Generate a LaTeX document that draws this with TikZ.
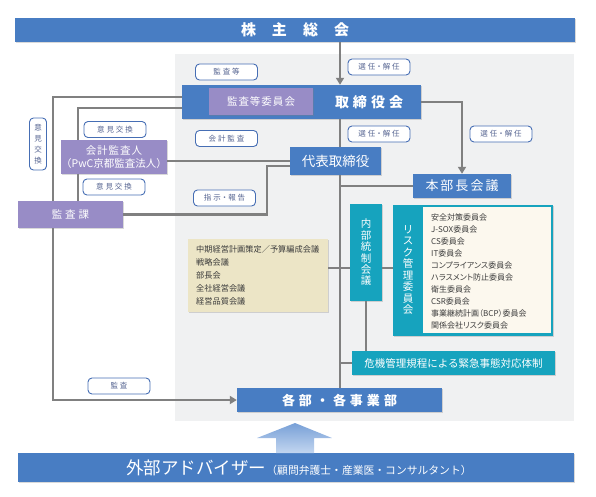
\documentclass[tikz,border=0pt]{standalone}
\usepackage{fontspec}
\setmainfont{Noto Sans CJK JP}
\usetikzlibrary{arrows.meta,shadows}
\definecolor{cblue}{RGB}{72,125,195}
\definecolor{cpurple}{RGB}{152,140,198}
\definecolor{cteal}{RGB}{22,163,190}
\definecolor{cbeige}{RGB}{236,229,198}
\definecolor{ccream}{RGB}{252,248,238}
\definecolor{cpanel}{RGB}{240,241,242}
\definecolor{cline}{RGB}{128,128,128}
\definecolor{clabel}{RGB}{70,110,180}
\definecolor{clabtxt}{RGB}{85,100,145}
\definecolor{ctext}{RGB}{60,60,60}
\pgfdeclarelayer{bg}
\pgfsetlayers{bg,main}
\tikzset{
  box/.style={rectangle, inner sep=0pt, text=white, drop shadow={shadow xshift=1.3pt,shadow yshift=-1.3pt,opacity=0.3}},
  bluebox/.style={box, fill=cblue},
  purplebox/.style={box, fill=cpurple},
  tealbox/.style={box, fill=cteal},
  lab/.style={draw=clabel, line width=0.9pt, fill=white, rounded corners=4pt, minimum width=62pt, minimum height=16pt, inner sep=0pt, text=clabtxt, font=\fontsize{7.5}{8}\selectfont\addfontfeature{RawFeature=+palt,LetterSpace=25}},
  conn/.style={draw=cline, line width=2.2pt},
  arr/.style={conn, -{Triangle[length=7pt,width=8pt]}},
  txt/.style={inner sep=0pt, text=white}
}
\begin{document}
\begin{tikzpicture}[x=1pt,y=-1pt]
\useasboundingbox (0,0) rectangle (596,496);
\begin{pgfonlayer}{bg}
\fill[cpanel] (175,54) rectangle (574,421);
\end{pgfonlayer}
\coordinate (spine) at (340,0);
\coordinate (midrow) at (0,268);
% top bar
\node[bluebox, minimum width=560pt, minimum height=24pt, font=\fontsize{15}{15}\selectfont\bfseries] (top) at (295,30) {株\hspace{16pt}主\hspace{16pt}総\hspace{16pt}会};
% board
\node[bluebox, minimum width=239pt, minimum height=34pt] (board) at (301.5,102) {};
\node[txt, font=\fontsize{14}{14}\selectfont\bfseries] (boardtxt) at (369,102) {取\hspace{4pt}締\hspace{4pt}役\hspace{4pt}会};
\node[purplebox, minimum width=104pt, minimum height=27pt, font=\fontsize{10.5}{11}\selectfont] (ac) at (261,101.5) {監\hspace{1pt}査\hspace{1pt}等\hspace{1pt}委\hspace{1pt}員\hspace{1pt}会};
% accountant
\node[purplebox, minimum width=104pt, minimum height=34pt, align=center, font=\fontsize{10.5}{13}\selectfont] (acct) at (114,157) {会\hspace{1pt}計\hspace{1pt}監\hspace{1pt}査\hspace{1pt}人\\（PwC京都監査法人）};
\node[purplebox, minimum width=105pt, minimum height=27pt, font=\fontsize{10.5}{11}\selectfont] (kansaka) at (70.5,214.5) {監\hspace{3pt}査\hspace{3pt}課};
% representative
\node[bluebox, minimum width=91pt, minimum height=28pt, font=\fontsize{13.5}{14}\selectfont] (rep) at (335.5,161) {代表取締役};
\node[bluebox, minimum width=98pt, minimum height=24pt, font=\fontsize{13}{14}\selectfont] (honbu) at (462,186) {本\hspace{2pt}部\hspace{2pt}長\hspace{2pt}会\hspace{2pt}議};
% beige list
\node[box, fill=cbeige, minimum width=140pt, minimum height=73pt] (beige) at (258,275.5) {};
\node[inner sep=0pt, anchor=west, align=left, text=ctext, font=\fontsize{8.2}{13}\selectfont] (beigetxt) at (196,275.5) {中期経営計画策定／予算編成会議\\戦略会議\\部長会\\全社経営会議\\経営品質会議};
% internal control
\node[tealbox, minimum width=32pt, minimum height=97pt, align=center, font=\fontsize{10.5}{11.4}\selectfont] (naibu) at (366,252.5) {内\\部\\統\\制\\会\\議};
% risk
\node[tealbox, minimum width=160pt, minimum height=131pt] (risk) at (473,270.5) {};
\node[fill=ccream, inner sep=0pt, minimum width=128pt, minimum height=126pt] (cream) at (487,270) {};
\node[txt, align=center, font=\fontsize{10.5}{11.5}\selectfont] (risktxt) at (408,270) {リ\\ス\\ク\\管\\理\\委\\員\\会};
\node[inner sep=0pt, anchor=west, align=left, text=ctext, font=\fontsize{8}{12}\selectfont\addfontfeature{RawFeature=+palt}] (risklist) at (431,271) {安全対策委員会\\J-SOX委員会\\CS委員会\\IT委員会\\コンプライアンス委員会\\ハラスメント防止委員会\\衛生委員会\\CSR委員会\\事業継続計画（BCP）委員会\\関係会社リスク委員会};
% crisis
\node[tealbox, minimum width=203pt, minimum height=24pt, font=\fontsize{10.5}{11}\selectfont] (kiki) at (453.5,363) {危機管理規程による緊急事態対応体制};
% departments
\node[bluebox, minimum width=205pt, minimum height=24pt, font=\fontsize{13}{14}\selectfont\bfseries] (kakubu) at (339.5,400) {各\hspace{4pt}部\hspace{4pt}・\hspace{4pt}各\hspace{4pt}事\hspace{4pt}業\hspace{4pt}部};
% advisors
\node[bluebox, minimum width=556pt, minimum height=29pt] (adv) at (296,467.5) {};
\node[txt] (advtxt) at (299,467.5) {{\fontsize{17.5}{18}\selectfont 外部アドバイザー}{\fontsize{10.8}{11}\selectfont （顧問弁護士・産業医・コンサルタント）}};
% big arrow
\shade[top color={rgb,255:red,120;green,160;blue,215}, bottom color={rgb,255:red,195;green,214;blue,240}]
  (276,453) -- (276,438) -- (257,438) -- (295,423) -- (332,438) -- (314,438) -- (314,453) -- cycle;
% labels
\node[lab] (l1) at (226.5,72) {監査等};
\node[lab] (l2) at (379,67) {選任・解任};
\node[lab] (l3) at (115,129.5) {意見交換};
\node[lab] (l4) at (226.5,138.5) {会計監査};
\node[lab] (l5) at (379,134) {選任・解任};
\node[lab] (l6) at (501,134) {選任・解任};
\node[lab] (l7) at (114,187) {意見交換};
\node[lab] (l8) at (224.5,198) {指示・報告};
\node[lab] (l9) at (119,386) {監査};
\node[lab, minimum width=17pt, minimum height=52pt, align=center, font=\fontsize{7.5}{11}\selectfont] (l10) at (38,144) {意\\見\\交\\換};
% connectors
\begin{pgfonlayer}{bg}
\draw[arr] (top.south -| spine) -- (board.north -| spine);
\draw[conn] (board.south -| spine) -- (rep.north -| spine);
\draw[arr] (board.east) -| (honbu.north);
\draw[conn] (rep.south -| spine) -- (kakubu.north -| spine);
\draw[conn] (honbu.west -| spine) -- (honbu.west);
\draw[conn] (beige.east |- midrow) -- (naibu.west |- midrow);
\draw[conn] (naibu.east |- midrow) -- (risk.west |- midrow);
\draw[conn] (naibu.south) -- (naibu.south |- kiki.north);
\draw[conn] (kiki.west -| spine) -- (kiki.west);
\draw[arr] ([xshift=-17.5pt]kansaka.north) |- ([yshift=4.5pt]ac.west);
\draw[arr] ([xshift=-17.5pt]kansaka.south) |- (kakubu.west);
\draw[arr] ([xshift=-36pt]acct.north) |- ([yshift=-6.5pt]ac.west);
\draw[conn] ([xshift=-36pt]acct.south) -- ([xshift=7.5pt]kansaka.north);
\draw[conn] (acct.east |- rep.west) -- (rep.west);
\draw[conn] (kansaka.east) -| (267,166) -- ([yshift=-5pt]rep.west);
\end{pgfonlayer}
\end{tikzpicture}
\end{document}
